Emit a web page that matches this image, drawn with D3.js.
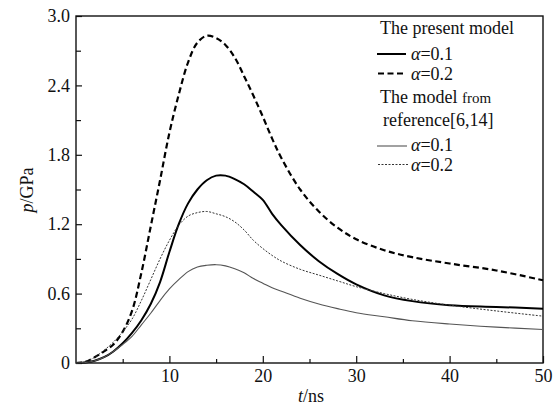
<!DOCTYPE html>
<html>
<head>
<meta charset="utf-8">
<script src="https://cdn.jsdelivr.net/npm/d3@7"></script>
<style>
  html, body { margin: 0; padding: 0; background: #fff; }
  svg { display: block; }
  svg text { font-family: "Liberation Serif", "Times New Roman", "DejaVu Serif", serif; fill: #111; }
</style>
</head>
<body>
<svg id="chart" width="555" height="407"></svg>
<script>
// ---- data ----
const tValues    = [0, 1, 2, 3, 4, 5, 6, 7, 8, 9, 10, 11, 12, 13, 14, 15, 16, 17, 18, 19, 20, 21, 22, 24, 26, 28, 30, 33, 36, 40, 45, 50];
const presentA01 = [0, 0.005, 0.02, 0.05, 0.10, 0.17, 0.26, 0.37, 0.51, 0.70, 0.96, 1.20, 1.38, 1.50, 1.58, 1.62, 1.62, 1.59, 1.545, 1.48, 1.41, 1.29, 1.19, 1.02, 0.88, 0.77, 0.68, 0.585, 0.535, 0.50, 0.485, 0.47];
const presentA02 = [0, 0.01, 0.05, 0.10, 0.16, 0.27, 0.45, 0.78, 1.18, 1.58, 1.99, 2.32, 2.60, 2.77, 2.83, 2.81, 2.75, 2.64, 2.48, 2.31, 2.13, 1.94, 1.77, 1.50, 1.31, 1.17, 1.07, 0.975, 0.915, 0.86, 0.80, 0.715];
const refA01     = [0, 0.005, 0.02, 0.05, 0.10, 0.16, 0.23, 0.33, 0.43, 0.54, 0.64, 0.72, 0.79, 0.83, 0.845, 0.85, 0.84, 0.815, 0.78, 0.73, 0.69, 0.65, 0.62, 0.56, 0.51, 0.47, 0.435, 0.40, 0.365, 0.337, 0.31, 0.29];
const refA02     = [0, 0.01, 0.05, 0.11, 0.18, 0.27, 0.38, 0.54, 0.72, 0.90, 1.06, 1.19, 1.27, 1.30, 1.31, 1.29, 1.265, 1.22, 1.15, 1.06, 0.99, 0.93, 0.88, 0.81, 0.76, 0.71, 0.66, 0.60, 0.55, 0.50, 0.45, 0.405];

const xTickValues = [10, 20, 30, 40, 50];
const xTickLabels = ["10", "20", "30", "40", "50"];
const xMinorTicks = [5, 15, 25, 35, 45];
const yTickValues = [0, 0.6, 1.2, 1.8, 2.4, 3.0];
const yTickLabels = ["0", "0.6", "1.2", "1.8", "2.4", "3.0"];
const yMinorTicks = [0.3, 0.9, 1.5, 2.1, 2.7];

const seriesNames = ["present α=0.1", "present α=0.2", "reference α=0.1", "reference α=0.2"];

// ---- layout ----
const FONT = "'Liberation Serif', 'Times New Roman', 'DejaVu Serif', serif";
const svg = d3.select("#chart");
const L = 76, R = 543, T = 16, B = 363;
const x = d3.scaleLinear().domain([0, 50]).range([L, R]);
const y = d3.scaleLinear().domain([0, 3]).range([B, T]);

svg.append("rect").attr("width", 555).attr("height", 407).attr("fill", "#fff");

// axes (inward ticks)
const xAxis = d3.axisBottom(x).tickValues(xTickValues)
  .tickFormat((d, i) => xTickLabels[i]).tickSizeInner(-7).tickSizeOuter(0).tickPadding(6);
const gx = svg.append("g").attr("transform", `translate(0,${B})`).call(xAxis)
  .attr("font-family", FONT).attr("font-size", 18);
gx.select(".domain").remove();
gx.selectAll("line").attr("stroke", "#111").attr("stroke-width", 1.2);
gx.selectAll("text").attr("fill", "#111");

const xMinor = d3.axisBottom(x).tickValues(xMinorTicks).tickFormat("").tickSizeInner(-4).tickSizeOuter(0);
const gxm = svg.append("g").attr("transform", `translate(0,${B})`).call(xMinor);
gxm.select(".domain").remove();
gxm.selectAll("line").attr("stroke", "#111").attr("stroke-width", 1.2);

const yAxis = d3.axisLeft(y).tickValues(yTickValues)
  .tickFormat((d, i) => yTickLabels[i]).tickSizeInner(-6).tickSizeOuter(0).tickPadding(6);
const gy = svg.append("g").attr("transform", `translate(${L},0)`).call(yAxis)
  .attr("font-family", FONT).attr("font-size", 18);
gy.select(".domain").remove();
gy.selectAll("line").attr("stroke", "#111").attr("stroke-width", 1.2);
gy.selectAll("text").attr("fill", "#111");

const yMinor = d3.axisLeft(y).tickValues(yMinorTicks).tickFormat("").tickSizeInner(-5).tickSizeOuter(0);
const gym = svg.append("g").attr("transform", `translate(${L},0)`).call(yMinor);
gym.select(".domain").remove();
gym.selectAll("line").attr("stroke", "#111").attr("stroke-width", 1.2);

// frame
svg.append("rect").attr("x", L).attr("y", T).attr("width", R - L).attr("height", B - T)
  .attr("fill", "none").attr("stroke", "#111").attr("stroke-width", 1.4);

// axis titles
const xt = svg.append("text").attr("x", 311).attr("y", 402).attr("text-anchor", "middle")
  .attr("font-size", 18).attr("font-family", FONT);
xt.append("tspan").attr("font-style", "italic").text("t");
xt.append("tspan").text("/ns");

const yt = svg.append("text").attr("transform", "translate(33,190) rotate(-90)")
  .attr("text-anchor", "middle").attr("font-size", 18).attr("font-family", FONT);
yt.append("tspan").attr("font-style", "italic").text("p");
yt.append("tspan").text("/GPa");

// ---- lines ----
const styles = [
  { data: presentA01, stroke: "#000", width: 2.0, dash: null },
  { data: presentA02, stroke: "#000", width: 2.2, dash: "6,3.5" },
  { data: refA01,     stroke: "#555", width: 1.1, dash: null },
  { data: refA02,     stroke: "#333", width: 1.0, dash: "2,1.5" }
];
const line = d3.line().x(d => x(d[0])).y(d => y(d[1])).curve(d3.curveCatmullRom.alpha(0.5));
styles.forEach((s, i) => {
  svg.append("path")
    .datum(tValues.map((t, j) => [t, s.data[j]]))
    .attr("class", "series")
    .attr("data-name", seriesNames[i])
    .attr("d", line)
    .attr("fill", "none")
    .attr("stroke", s.stroke)
    .attr("stroke-width", s.width)
    .attr("stroke-dasharray", s.dash);
});

// ---- legend ----
const lg = svg.append("g").attr("font-family", FONT);
lg.append("text").attr("x", 380).attr("y", 34).attr("font-size", 18).text("The present model");
const t2 = lg.append("text").attr("x", 380).attr("y", 103).attr("font-size", 18);
t2.append("tspan").text("The model ");
t2.append("tspan").attr("font-size", 15).text("from");
lg.append("text").attr("x", 383).attr("y", 126).attr("font-size", 18).text("reference[6,14]");

const legendRows = [
  { s: styles[0], ly: 54,  ty: 60,  x1: 377, x2: 406, label: "0.1" },
  { s: styles[1], ly: 73.5, ty: 80, x1: 378, x2: 405, label: "0.2" },
  { s: styles[2], ly: 146, ty: 151, x1: 377, x2: 407, label: "0.1" },
  { s: styles[3], ly: 164.5, ty: 171, x1: 378, x2: 409, label: "0.2" }
];
legendRows.forEach(r => {
  lg.append("line").attr("x1", r.x1).attr("x2", r.x2).attr("y1", r.ly).attr("y2", r.ly)
    .attr("stroke", r.s.stroke).attr("stroke-width", r.s.width).attr("stroke-dasharray", r.s.dash);
  const tx = lg.append("text").attr("x", 411).attr("y", r.ty).attr("font-size", 18);
  tx.append("tspan").attr("font-style", "italic").text("α");
  tx.append("tspan").text("=" + r.label);
});
</script>
</body>
</html>
